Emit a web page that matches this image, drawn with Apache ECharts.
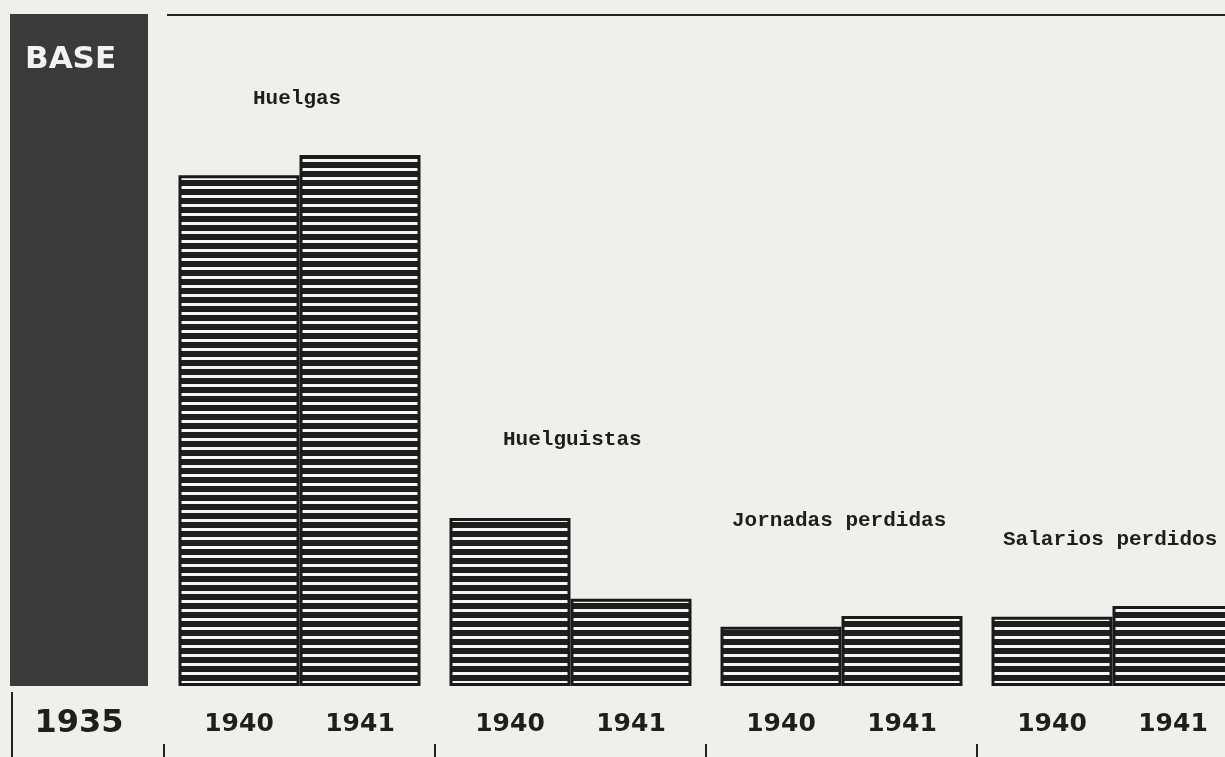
<!DOCTYPE html>
<html>
<head>
<meta charset="utf-8">
<script src="https://cdn.jsdelivr.net/npm/echarts@6/dist/echarts.min.js"></script>
<style>
html,body{margin:0;padding:0;background:#efefec;}
#chart{width:1225px;height:757px;}
</style>
</head>
<body>
<div id="chart"></div>
<script>
// ---- data ----
const groups = ['Huelgas', 'Huelguistas', 'Jornadas perdidas', 'Salarios perdidos'];
const yearA = '1940';
const yearB = '1941';
const baseYear = ['1935'];
const baseValue = [100];
const baseLabel = 'BASE';
const values1940 = [76, 25, 8.8, 10.3];
const values1941 = [79, 13, 10.4, 11.9];

// ---- hatch pattern ----
const pc = document.createElement('canvas');
pc.width = 8; pc.height = 9;
const px = pc.getContext('2d');
px.fillStyle = '#f4f4f1';
px.fillRect(0, 0, 8, 9);
px.fillStyle = '#1e1e1e';
px.fillRect(0, 0, 8, 6);
const hatch = { image: pc, repeat: 'repeat' };

const chart = echarts.init(document.getElementById('chart'), null, { renderer: 'canvas' });

const yearLabel = {
  show: true, position: 'bottom', distance: 26,
  fontFamily: 'DejaVu Sans', fontWeight: 'bold', fontSize: 25, color: '#1e1e1e'
};

const titleStyle = { fontFamily: 'Liberation Mono', fontWeight: 'bold', fontSize: 21, fill: '#1e1e1e' };

chart.setOption({
  backgroundColor: '#efefec',
  animation: false,
  grid: [
    { left: 10, width: 138, top: 14, bottom: 71, outerBoundsMode: 'none' },
    { left: 164, width: 1084, top: 14, bottom: 71, outerBoundsMode: 'none' },
    { left: 164, width: 1084, top: 738, height: 6, outerBoundsMode: 'none' }
  ],
  xAxis: [
    { gridIndex: 0, type: 'category', data: baseYear, axisLine: { show: false }, axisTick: { show: false }, axisLabel: { show: false } },
    { gridIndex: 1, type: 'category', data: groups,
      axisLine: { show: false }, axisTick: { show: false }, axisLabel: { show: false } },
    { gridIndex: 2, type: 'category', data: groups, position: 'bottom',
      axisLine: { show: false },
      axisTick: { show: true, inside: false, length: 14, lineStyle: { color: '#222', width: 2 } },
      axisLabel: { show: false } }
  ],
  yAxis: [
    { gridIndex: 0, type: 'value', min: 0, max: 100, show: false },
    { gridIndex: 1, type: 'value', min: 0, max: 100, show: false },
    { gridIndex: 2, type: 'value', min: 0, max: 1, show: false }
  ],
  series: [
    { type: 'bar', name: baseYear[0], xAxisIndex: 0, yAxisIndex: 0, data: baseValue, barWidth: '100%',
      itemStyle: { color: '#3a3a3a' },
      label: Object.assign({}, yearLabel, { fontSize: 32, distance: 22, formatter: '{b}' }) },
    { type: 'bar', name: yearA, xAxisIndex: 1, yAxisIndex: 1, data: values1940, barWidth: 121, barGap: '0%',
      itemStyle: { color: hatch, borderColor: '#1a1a1a', borderWidth: 3 },
      label: Object.assign({}, yearLabel, { formatter: '{a}' }) },
    { type: 'bar', name: yearB, xAxisIndex: 1, yAxisIndex: 1, data: values1941, barWidth: 121, barGap: '0%',
      itemStyle: { color: hatch, borderColor: '#1a1a1a', borderWidth: 3 },
      label: Object.assign({}, yearLabel, { formatter: '{a}' }) }
  ],
  graphic: [
    { type: 'line', z: 100, shape: { x1: 167, y1: 15, x2: 1225, y2: 15 }, style: { stroke: '#222', lineWidth: 2 } },
    { type: 'line', z: 100, shape: { x1: 12, y1: 692, x2: 12, y2: 757 }, style: { stroke: '#222', lineWidth: 2 } },
    { type: 'text', z: 100, x: 25, y: 60, style: { text: baseLabel, verticalAlign: 'middle', fontFamily: 'DejaVu Sans', fontWeight: 'bold', fontSize: 31, fill: '#f2f2f2' } },
    { type: 'text', z: 100, x: 253, y: 99, style: Object.assign({ text: groups[0], verticalAlign: 'middle' }, titleStyle) },
    { type: 'text', z: 100, x: 503, y: 440, style: Object.assign({ text: groups[1], verticalAlign: 'middle' }, titleStyle) },
    { type: 'text', z: 100, x: 732, y: 521, style: Object.assign({ text: groups[2], verticalAlign: 'middle' }, titleStyle) },
    { type: 'text', z: 100, x: 1003, y: 540, style: Object.assign({ text: groups[3], verticalAlign: 'middle' }, titleStyle) }
  ]
});
</script>
</body>
</html>
